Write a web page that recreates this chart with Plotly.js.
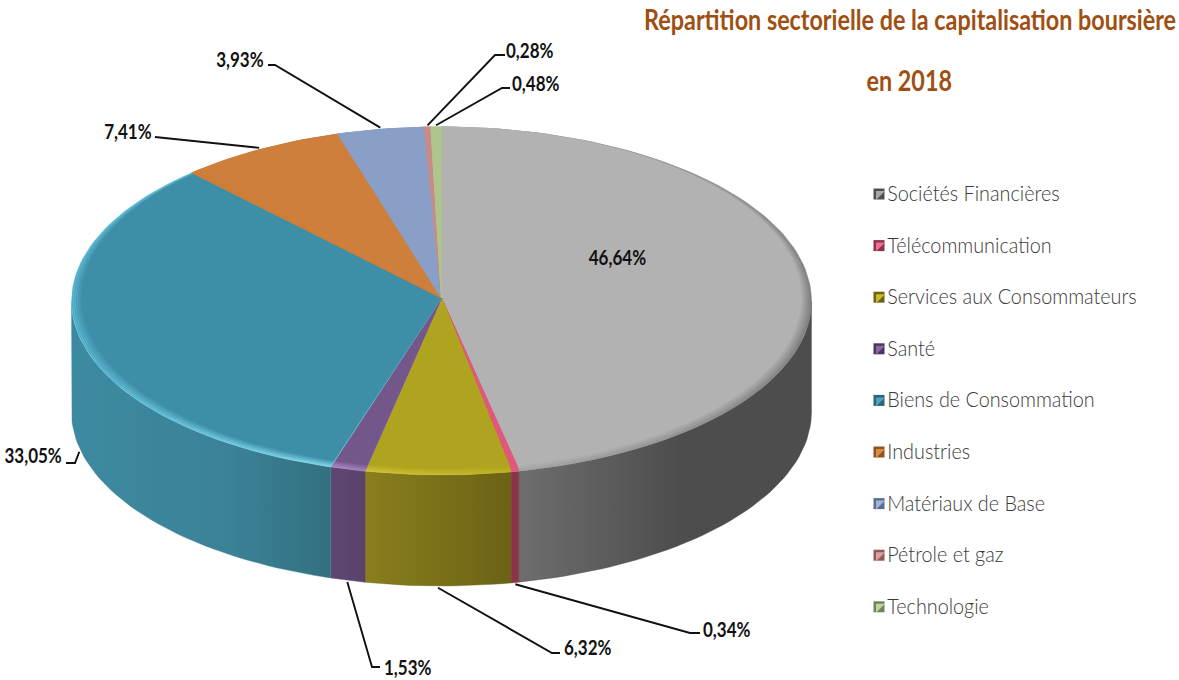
<!DOCTYPE html>
<html lang="fr">
<head>
<meta charset="utf-8">
<title>Répartition sectorielle de la capitalisation boursière en 2018</title>
<script src="https://cdn.plot.ly/plotly-3.0.1.min.js"></script>
<style>html,body{margin:0;padding:0;background:#fff}#chart{width:1179px;height:680px}</style>
</head>
<body>
<div id="chart"></div>
<script>
// ---- data ----
const categories = ["Sociétés Financières","Télécommunication","Services aux Consommateurs","Santé","Biens de Consommation","Industries","Matériaux de Base","Pétrole et gaz","Technologie"];
const shares = [46.64,0.34,6.32,1.53,33.05,7.41,3.93,0.28,0.48];
const titleLines = ["Répartition sectorielle de la capitalisation boursière","en 2018"];

// ---- styles ----
const faceColors = ["#b2b2b2","#e0587a","#afa41f","#74578a","#3f8ea8","#cd7f3b","#8a9fc7","#c98a8a","#afc48e"];
const sideStops = [[[0,"#6e6e6e"],[0.55,"#4d4d4d"],[1,"#4d4d4d"]],[[0,"#8a3349"],[1,"#8a3349"]],[[0,"#8a7e1d"],[1,"#6b6215"]],[[0,"#5e4672"],[1,"#5a4369"]],[[0,"#3c8aa1"],[0.6,"#3b8298"],[1,"#32707f"]],[[0,"#a5662f"],[1,"#a5662f"]],[[0,"#6f80a0"],[1,"#6f80a0"]],[[0,"#a26f6f"],[1,"#a26f6f"]],[[0,"#8d9e72"],[1,"#8d9e72"]]];
const rimStops = [["#c0c0c0","#808080"],["#e86b8a","#e0587a"],["#d6ca38","#bdb125"],["#b893d0","#8e70a6"],["#4ca8c5","#8ce2f3"],["#cd7f3b","#cd7f3b"],["#8a9fc7","#8a9fc7"],["#c98a8a","#c98a8a"],["#afc48e","#afc48e"]];
const legendTops = ["#a8a8a8","#f0708f","#c9bc2a","#8a6aa3","#4fa3bd","#dd8c44","#a0b3d6","#dca0a0","#c0d49f"];
const legendBottoms = ["#4f4f4f","#8a3349","#6b6215","#4a3560","#2c6478","#8f5220","#5a6c90","#8f5a5a","#71835a"];

// Geometry of the drawn disc, in pixels of the plot axes
const cx = 441.5, cy = 301, rx = 370, ry = 174, depth = 111, apexY = 298;
const backLeftSkew = 1.0; // degrees of perspective shift in the rear-left quarter
// Elbow of each leader line and label anchor (null = label on the slice)
const leaderElbows = [null,[690,633,700,633],[552,653,560,653],[372,667,380,667],[75,463,66,463],[157,137,155,137],[275,65,268,65],[495,55,505,55],[502,88,510,88]];
const labelSpots = [[617,256,"center"],[702,628,"left"],[563,646,"left"],[383,666,"left"],[63,454,"right"],[153,130,"right"],[265,58,"right"],[505,49,"left"],[511,82,"left"]];
const titleY = [19,80];
const legendX = 879, legendY0 = 194, legendStep = 51.6;
const textFont = "Lato, sans-serif";

// ---- helpers ----
const total = shares.reduce((a,b)=>a+b,0);
const rad = d => d*Math.PI/180;
let acc = 0;
const slices = shares.map(v => { const a0 = acc/total*360; acc += v; return [a0, acc/total*360]; });
const warp = d => d>270 ? d - backLeftSkew*Math.sin(rad(2*d)) : d;
const pt = (deg, rxx, ryy, yc) => { const w = rad(warp(deg)); return [cx + rxx*Math.sin(w), yc - ryy*Math.cos(w)]; };
function arc(a0,a1,rxx,ryy,yc){
  const n = Math.max(2,Math.ceil((a1-a0)/1.5)), out=[];
  for(let i=0;i<=n;i++) out.push(pt(a0+(a1-a0)*i/n,rxx,ryy,yc));
  return out;
}
const hex = c => [1,3,5].map(i=>parseInt(c.substr(i,2),16));
const mix = (a,b,t) => { const A=hex(a),B=hex(b); return "#"+A.map((v,i)=>Math.round(v+(B[i]-v)*t).toString(16).padStart(2,"0")).join(""); };
function poly(points, scale){
  const xs = points.map(p=>p[0]), ys = points.map(p=>p[1]);
  xs.push(xs[0]); ys.push(ys[0]);
  const start = Math.min(...xs), stop = Math.max(...xs);
  return {type:"scatter",mode:"lines",x:xs,y:ys,fill:"toself",hoverinfo:"skip",showlegend:false,
    line:{width:0.4,color:scale[Math.floor(scale.length/2)][1]},
    fillgradient:{type:"horizontal",start:start,stop:stop,colorscale:scale}};
}

const traces = [];
// front wall: only the part of each slice between 90 and 270 degrees shows
slices.forEach((s,i)=>{
  const a0 = Math.max(s[0],90), a1 = Math.min(s[1],270);
  if(a1<=a0) return;
  const upper = arc(a0,a1,rx,ry,cy), lower = arc(a0,a1,rx,ry,cy+depth).reverse();
  traces.push(poly(upper.concat(lower), sideStops[i]));
});
// top face, with a soft bevel made from nested sectors
const bevelLayers = 5;
slices.forEach((s,i)=>{
  for(let k=0;k<=bevelLayers;k++){
    const t = k/bevelLayers;
    const rxx = rx-10*t, ryy = ry-3.2*t, yc = cy-3.2*t;
    const pts = [[cx,apexY]].concat(arc(s[0],s[1],rxx,ryy,yc));
    traces.push(poly(pts,[[0,mix(rimStops[i][0],faceColors[i],t)],[1,mix(rimStops[i][1],faceColors[i],t)]]));
  }
});
// leader lines, starting from the slice's own mid angle
slices.forEach((s,i)=>{
  const e = leaderElbows[i];
  if(!e) return;
  const mid = (s[0]+s[1])/2;
  const front = mid>90 && mid<270;
  const p = pt(mid,rx*1.005,ry*1.01,front?cy+depth:cy);
  traces.push({type:"scatter",mode:"lines",x:[p[0],e[0],e[2]],y:[p[1],e[1],e[3]],hoverinfo:"skip",showlegend:false,
    line:{color:"#111111",width:1.9}});
});
// legend
categories.forEach((c,i)=>{
  const y = legendY0+i*legendStep;
  traces.push({type:"scatter",mode:"markers",x:[legendX],y:[y],hoverinfo:"skip",showlegend:false,
    marker:{symbol:"square",size:11,color:legendBottoms[i],line:{width:0}}});
  traces.push({type:"scatter",mode:"markers+text",name:c,x:[legendX],y:[y],hoverinfo:"skip",showlegend:false,
    text:[c],textposition:"middle right",textfont:{family:textFont,size:22,color:"#3a3a3a",weight:300},
    marker:{symbol:"triangle-nw",size:10,color:legendTops[i],line:{width:0}}});
});

const annotations = shares.map((v,i)=>({
  x:labelSpots[i][0],y:labelSpots[i][1],xref:"x",yref:"y",xanchor:labelSpots[i][2],yanchor:"middle",showarrow:false,
  text:"<b>"+v.toFixed(2).replace(".",",")+"%</b>",
  font:{family:textFont,size:21,color:"#111111"},borderpad:0
}));
titleLines.forEach((t,i)=>annotations.push({
  x:909.5,y:titleY[i],xref:"x",yref:"y",xanchor:"center",yanchor:"middle",showarrow:false,
  text:"<b>"+t+"</b>",font:{family:textFont,size:28,color:"#a04f12"}
}));

Plotly.newPlot("chart",traces,{
  width:1179,height:680,margin:{l:0,r:0,t:0,b:0,pad:0},
  paper_bgcolor:"#ffffff",plot_bgcolor:"#ffffff",showlegend:false,hovermode:false,
  xaxis:{range:[0,1179],visible:false,fixedrange:true},
  yaxis:{range:[680,0],visible:false,fixedrange:true},
  annotations:annotations
},{displayModeBar:false,staticPlot:true}).then(gd=>{
  // The source face is condensed; none is installed, so the text is narrowed in place.
  const squeeze = (el,sx,origin,extra)=>{
    el.style.transformBox="fill-box";
    el.style.transformOrigin=origin+" center";
    el.style.transform=(extra||"")+" scaleX("+sx+")";
  };
  gd.querySelectorAll(".annotation-text").forEach((el,i)=>{
    if(i<shares.length) squeeze(el,0.81,labelSpots[i][2]);
    else squeeze(el,0.834,"center");
  });
  gd.querySelectorAll(".textpoint text").forEach(el=>squeeze(el,0.9,"left","translate(1px,1.5px)"));
});
</script>
</body>
</html>
